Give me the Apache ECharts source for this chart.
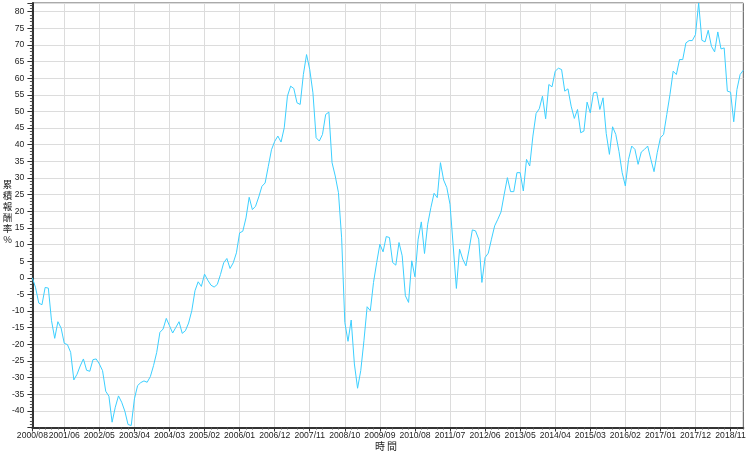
<!DOCTYPE html>
<html>
<head>
<meta charset="utf-8">
<script src="https://cdn.jsdelivr.net/npm/echarts@6/dist/echarts.min.js"></script>
<style>html,body{margin:0;padding:0;background:#fff}#c{width:749px;height:453px}</style>
</head>
<body>
<div id="c"></div>
<script>
// Monthly categories starting 2000/08 (224 months)
const startYear = 2000, startMonth = 8, monthCount = 224;
const months = [];
for (let i = 0; i < monthCount; i++) {
  const m = startMonth - 1 + i;
  const y = startYear + Math.floor(m / 12);
  const mm = (m % 12) + 1;
  months.push(y + '/' + (mm < 10 ? '0' + mm : mm));
}

// Tick labels shown on the x axis
const tickLabels = ['2000/08','2001/06','2002/05','2003/04','2004/03','2005/02','2006/01','2006/12','2007/11','2008/10','2009/09','2010/08','2011/07','2012/06','2013/05','2014/04','2015/03','2016/02','2017/01','2017/12','2018/11'];

// Axis titles
const xTitle = '時間';
const yTitle = '累積報酬率%';

// Cumulative return (%)
const returns = [
  0, -3, -7.6, -8.1, -2.9, -3.1, -12.9, -18.2, -13.2, -15.1,
  -19.7, -20.1, -22.4, -30.7, -29, -26.5, -24.4, -27.8, -28.1, -24.6,
  -24.4, -25.9, -27.9, -34.1, -35.6, -43.4, -38.9, -35.5, -37.4, -40.1,
  -44.1, -44.4, -36.4, -32.4, -31.5, -31, -31.4, -29.7, -26.4, -22.4,
  -16.4, -15.4, -12.2, -14.4, -16.6, -14.9, -13.2, -16.7, -15.9, -13.6,
  -9.9, -3.9, -1.2, -2.6, 1.1, -0.7, -2.2, -2.8, -2.0, 1.0,
  4.5, 5.8, 2.8, 4.5, 7.5, 13.5, 14.0, 18.0, 24.2, 20.5,
  21.5, 24.3, 27.5, 28.5, 33.5, 38.5, 41.0, 42.6, 40.8, 45.1,
  54.6, 57.6, 56.9, 52.6, 52.1, 61.1, 67.1, 62.6, 55.6, 42.1,
  41.1, 43.1, 49.1, 49.8, 34.6, 30.6, 25.6, 12, -13.4, -19.1,
  -12.7, -25.9, -33.2, -27.9, -18.9, -8.7, -9.9, -1.4, 4.6, 10.1,
  7.8, 12.4, 12.1, 4.6, 3.8, 10.6, 6.6, -5.4, -7.4, 5.1,
  0.3, 11.6, 16.8, 7.3, 16.1, 21.1, 25.4, 24.1, 34.6, 29.4,
  27.1, 22.1, 9.6, -3.2, 8.6, 5.6, 3.6, 8.6, 14.4, 14.1,
  11.6, -1.4, 6.1, 7.4, 11.6, 15.6, 17.6, 19.8, 25.1, 30.1,
  25.9, 25.9, 31.6, 31.6, 26.1, 35.6, 33.6, 42.6, 49.4, 50.8,
  54.6, 47.8, 58.1, 57.4, 62.1, 63.0, 62.6, 56.1, 56.8, 51.6,
  47.9, 50.6, 43.6, 44.1, 52.8, 49.6, 55.6, 55.8, 50.6, 54.1,
  43.4, 37.1, 45.4, 43.1, 38.0, 31.6, 27.6, 35.6, 39.6, 38.6,
  34.1, 37.8, 38.6, 39.6, 35.6, 31.9, 37.6, 42.1, 43.1, 49.1,
  55.1, 62.1, 61.1, 65.6, 65.6, 70.6, 71.3, 71.3, 73.1, 82.6,
  71.4, 70.9, 74.4, 69.6, 67.9, 73.9, 68.8, 69.1, 56.1, 55.8,
  46.9, 56.6, 61.1, 62.4
];

const tickSet = new Set(tickLabels);
const majorIdx = months.map((m, i) => tickSet.has(m) ? i : -1).filter(i => i >= 0);
// minor x ticks: 4 between each pair of major ticks
const minorSet = new Set();
for (let k = 0; k < majorIdx.length; k++) {
  const a = majorIdx[k];
  const b = k + 1 < majorIdx.length ? majorIdx[k + 1] : a + 11;
  for (let j = 1; j < 5; j++) {
    const p = Math.round(a + (b - a) * j / 5);
    if (p < monthCount) minorSet.add(p);
  }
}

const chart = echarts.init(document.getElementById('c'), null, {renderer: 'canvas'});
const labelFont = {fontFamily: 'Liberation Sans, Arial, sans-serif', fontSize: 8.6, color: '#222'};
chart.setOption({
  animation: false,
  backgroundColor: '#fff',
  grid: {left: 32.4, right: 5.7, top: 3, bottom: 25.5, show: true, borderColor: '#555', borderWidth: 1, containLabel: false, outerBoundsMode: 'none'},
  graphic: [{
    type: 'text',
    x: 7.5,
    y: 211.5,
    style: {
      text: yTitle.split('').join('\n'),
      align: 'center',
      verticalAlign: 'middle',
      lineHeight: 11,
      fontSize: 9.5,
      fontFamily: 'Noto Sans CJK TC, sans-serif',
      fill: '#222'
    }
  }, {
    type: 'text',
    x: 386,
    y: 446.5,
    style: {
      text: xTitle.split('').join(' '),
      align: 'center',
      verticalAlign: 'middle',
      fontSize: 10,
      fontFamily: 'Noto Sans CJK TC, sans-serif',
      fill: '#222'
    }
  }],
  xAxis: [{
    type: 'category',
    data: months,
    boundaryGap: false,
    position: 'bottom',
    axisLine: {show: true, onZero: false, lineStyle: {color: '#333', width: 2}},
    axisTick: {show: true, length: 4, lineStyle: {color: '#333'}, interval: (i, v) => tickSet.has(v)},
    axisLabel: Object.assign({show: true, margin: 4, interval: (i, v) => tickSet.has(v)}, labelFont),
    splitLine: {show: true, interval: (i, v) => tickSet.has(v), lineStyle: {color: '#dcdcdc', width: 1}}
  }, {
    type: 'category',
    data: months,
    boundaryGap: false,
    position: 'bottom',
    gridIndex: 0,
    axisLine: {show: false, onZero: false},
    axisLabel: {show: false},
    splitLine: {show: false},
    axisTick: {show: true, length: 2, lineStyle: {color: '#555'}, interval: (i) => minorSet.has(i)}
  }],
  yAxis: {
    type: 'value',
    min: -45,
    max: 82.6,
    interval: 5,
    axisLine: {show: true, onZero: false, lineStyle: {color: '#333', width: 2}},
    axisTick: {show: true, length: 5, lineStyle: {color: '#333'}},
    minorTick: {show: true, splitNumber: 5, length: 2.5, lineStyle: {color: '#555'}},
    axisLabel: Object.assign({margin: 8, showMinLabel: false, showMaxLabel: false}, labelFont),
    splitLine: {show: true, lineStyle: {color: '#dcdcdc', width: 1}},
    minorSplitLine: {show: false}
  },
  series: [{
    type: 'line',
    xAxisIndex: 0,
    data: returns,
    symbol: 'none',
    showSymbol: false,
    lineStyle: {color: '#3ccfff', width: 1},
    itemStyle: {color: '#3ccfff'}
  }]
});
</script>
</body>
</html>
